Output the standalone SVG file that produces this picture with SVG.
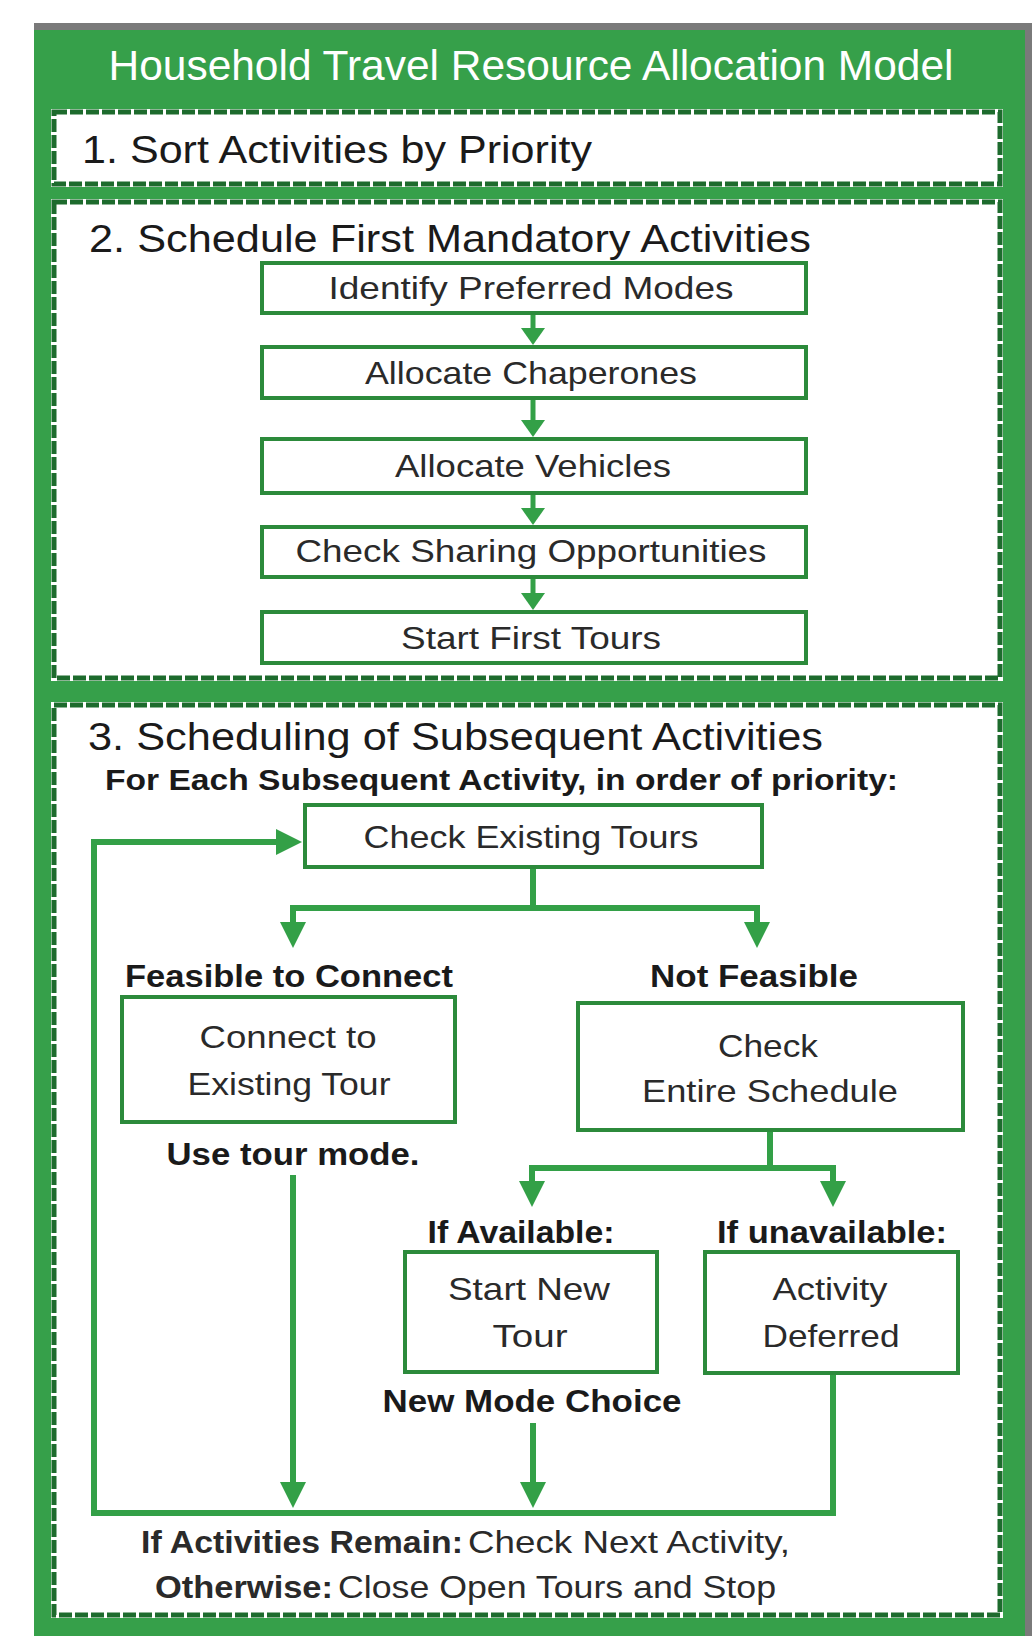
<svg xmlns="http://www.w3.org/2000/svg" width="1032" height="1636" viewBox="0 0 1032 1636">
<style>
text{font-family:"Liberation Sans",Arial,sans-serif;fill:#222;}
.title{fill:#fff;font-size:42px;}
.h{font-size:39px;fill:#1a1a1a;}
.bt{font-size:32px;text-anchor:middle;fill:#2a2a2a;}
.lb{font-size:32px;font-weight:bold;text-anchor:middle;fill:#1a1a1a;}
.sub{font-size:29px;font-weight:bold;fill:#1a1a1a;}
.bot{font-size:32px;fill:#2a2a2a;}
.secw{fill:#fff;stroke:#fff;stroke-width:6;}
.secd{fill:none;stroke:#1d6b2d;stroke-width:5;stroke-dasharray:13 3;}
.box{fill:#fff;stroke:#2c8a3b;stroke-width:4;}
.con{fill:none;stroke:#33a047;stroke-width:6;}
.cons{fill:none;stroke:#33a047;stroke-width:5;}
</style>
<defs>
<marker id="ah" markerUnits="userSpaceOnUse" viewBox="0 0 26 26" refX="16" refY="13" markerWidth="26" markerHeight="26" orient="auto">
<path d="M0,0 L26,13 L0,26 z" fill="#33a047"/>
</marker>
<marker id="ahs" markerUnits="userSpaceOnUse" viewBox="0 0 17 24" refX="9" refY="12" markerWidth="17" markerHeight="24" orient="auto">
<path d="M0,0 L17,12 L0,24 z" fill="#33a047"/>
</marker>
</defs>

<g id="frame">
<rect x="34" y="23" width="998" height="1613" fill="#7a7a7a"/>
<rect x="34" y="30" width="991" height="1606" fill="#36a04a"/>
<text class="title" x="531" y="80" text-anchor="middle" textLength="845" lengthAdjust="spacingAndGlyphs">Household Travel Resource Allocation Model</text>
</g>

<g id="section1">
<rect class="secw" x="54" y="112" width="946" height="72"/>
<rect class="secd" x="54" y="112" width="946" height="72"/>
<text class="h" x="82" y="163" font-size="37" textLength="510" lengthAdjust="spacingAndGlyphs">1. Sort Activities by Priority</text>
</g>

<g id="section2">
<rect class="secw" x="54" y="202" width="946" height="476"/>
<rect class="secd" x="54" y="202" width="946" height="476"/>
<text class="h" x="89" y="252" textLength="722" lengthAdjust="spacingAndGlyphs">2. Schedule First Mandatory Activities</text>
</g>

<g id="section3">
<rect class="secw" x="54" y="705" width="946" height="910"/>
<rect class="secd" x="54" y="705" width="946" height="910"/>
<text class="h" x="88" y="750" textLength="735" lengthAdjust="spacingAndGlyphs">3. Scheduling of Subsequent Activities</text>
<text class="sub" x="105" y="790" textLength="793" lengthAdjust="spacingAndGlyphs">For Each Subsequent Activity, in order of priority:</text>
</g>

<g id="connectors">
<line class="cons" x1="533" y1="313" x2="533" y2="337" marker-end="url(#ahs)"/>
<line class="cons" x1="533" y1="398" x2="533" y2="429" marker-end="url(#ahs)"/>
<line class="cons" x1="533" y1="493" x2="533" y2="517" marker-end="url(#ahs)"/>
<line class="cons" x1="533" y1="577" x2="533" y2="602" marker-end="url(#ahs)"/>
<polyline class="con" points="533,867 533,908"/>
<polyline class="con" points="293,908 757,908"/>
<line class="con" x1="293" y1="905" x2="293" y2="938" marker-end="url(#ah)"/>
<line class="con" x1="757" y1="905" x2="757" y2="938" marker-end="url(#ah)"/>
<polyline class="con" points="770,1130 770,1168"/>
<polyline class="con" points="532,1168 833,1168"/>
<line class="con" x1="532" y1="1165" x2="532" y2="1197" marker-end="url(#ah)"/>
<line class="con" x1="833" y1="1165" x2="833" y2="1197" marker-end="url(#ah)"/>
<line class="con" x1="293" y1="1175" x2="293" y2="1498" marker-end="url(#ah)"/>
<line class="con" x1="533" y1="1423" x2="533" y2="1498" marker-end="url(#ah)"/>
<polyline class="con" points="833,1373 833,1513 94,1513 94,842 292,842" marker-end="url(#ah)"/>
</g>

<g id="n-identify"><rect class="box" x="262" y="263" width="544" height="50"/><text class="bt" x="531" y="299" textLength="405" lengthAdjust="spacingAndGlyphs">Identify Preferred Modes</text></g>
<g id="n-chaperones"><rect class="box" x="262" y="347" width="544" height="51"/><text class="bt" x="531" y="384" textLength="332" lengthAdjust="spacingAndGlyphs">Allocate Chaperones</text></g>
<g id="n-vehicles"><rect class="box" x="262" y="439" width="544" height="54"/><text class="bt" x="533" y="477" textLength="276" lengthAdjust="spacingAndGlyphs">Allocate Vehicles</text></g>
<g id="n-sharing"><rect class="box" x="262" y="527" width="544" height="50"/><text class="bt" x="531" y="562" textLength="471" lengthAdjust="spacingAndGlyphs">Check Sharing Opportunities</text></g>
<g id="n-firsttours"><rect class="box" x="262" y="612" width="544" height="51"/><text class="bt" x="531" y="649" textLength="260" lengthAdjust="spacingAndGlyphs">Start First Tours</text></g>

<g id="n-checkexisting"><rect class="box" x="305" y="805" width="457" height="62"/><text class="bt" x="531" y="848" textLength="335" lengthAdjust="spacingAndGlyphs">Check Existing Tours</text></g>

<g id="n-connect">
<text class="lb" x="289" y="987" textLength="328" lengthAdjust="spacingAndGlyphs">Feasible to Connect</text>
<rect class="box" x="122" y="997" width="333" height="125"/>
<text class="bt" x="288" y="1048" textLength="177" lengthAdjust="spacingAndGlyphs">Connect to</text>
<text class="bt" x="289" y="1095" textLength="203" lengthAdjust="spacingAndGlyphs">Existing Tour</text>
<text class="lb" x="293" y="1165" textLength="253" lengthAdjust="spacingAndGlyphs">Use tour mode.</text>
</g>

<g id="n-checkentire">
<text class="lb" x="754" y="987" textLength="208" lengthAdjust="spacingAndGlyphs">Not Feasible</text>
<rect class="box" x="578" y="1003" width="385" height="127"/>
<text class="bt" x="768" y="1057" textLength="100" lengthAdjust="spacingAndGlyphs">Check</text>
<text class="bt" x="770" y="1102" textLength="256" lengthAdjust="spacingAndGlyphs">Entire Schedule</text>
</g>

<g id="n-startnew">
<text class="lb" x="521" y="1243" textLength="187" lengthAdjust="spacingAndGlyphs">If Available:</text>
<rect class="box" x="405" y="1252" width="252" height="120"/>
<text class="bt" x="529" y="1300" textLength="162" lengthAdjust="spacingAndGlyphs">Start New</text>
<text class="bt" x="530" y="1347" textLength="75" lengthAdjust="spacingAndGlyphs">Tour</text>
<text class="lb" x="532" y="1412" textLength="299" lengthAdjust="spacingAndGlyphs">New Mode Choice</text>
</g>

<g id="n-deferred">
<text class="lb" x="832" y="1243" textLength="230" lengthAdjust="spacingAndGlyphs">If unavailable:</text>
<rect class="box" x="705" y="1252" width="253" height="121"/>
<text class="bt" x="830" y="1300" textLength="115" lengthAdjust="spacingAndGlyphs">Activity</text>
<text class="bt" x="831" y="1347" textLength="137" lengthAdjust="spacingAndGlyphs">Deferred</text>
</g>

<g id="n-end">
<text class="bot" x="141" y="1553" font-weight="bold" textLength="322" lengthAdjust="spacingAndGlyphs">If Activities Remain:</text>
<text class="bot" x="468" y="1553" textLength="322" lengthAdjust="spacingAndGlyphs">Check Next Activity,</text>
<text class="bot" x="155" y="1598" font-weight="bold" textLength="178" lengthAdjust="spacingAndGlyphs">Otherwise:</text>
<text class="bot" x="338" y="1598" textLength="438" lengthAdjust="spacingAndGlyphs">Close Open Tours and Stop</text>
</g>
</svg>
